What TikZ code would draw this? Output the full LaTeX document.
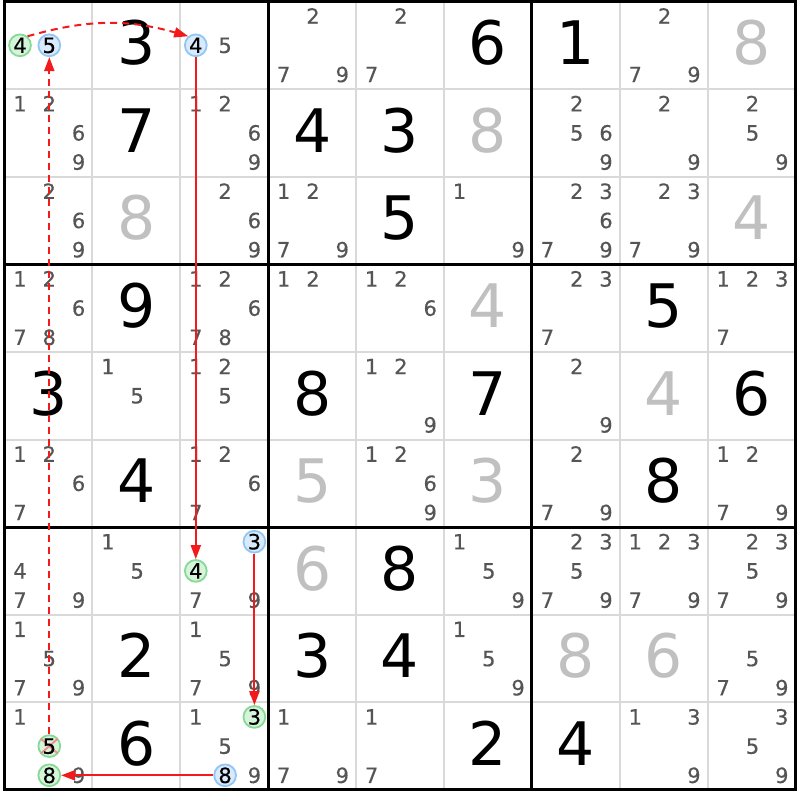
\documentclass[tikz,border=0pt]{standalone}
\usepackage{fontspec}
\setmainfont{DejaVu Sans}
\newfontfamily\candfont[FakeBold=0.4]{DejaVu Sans}
\usetikzlibrary{arrows.meta}
\definecolor{candgray}{HTML}{555555}
\definecolor{givengray}{HTML}{C0C0C0}
\definecolor{thingrid}{HTML}{D9D9D9}
\definecolor{grnfill}{HTML}{D6F4DA}
\definecolor{grnline}{HTML}{86DA96}
\definecolor{blufill}{HTML}{D8EAFC}
\definecolor{bluline}{HTML}{92C6F4}
\definecolor{linkred}{HTML}{F21A1A}
\definecolor{crossred}{HTML}{F08C8C}
\newcommand\candcoord[4]{%
  \pgfmathsetmacro\cxv{4.5+87.9*(#3-1)+15.5+29.3*mod(#4-1,3)}%
  \pgfmathsetmacro\cyv{1.5+87.6*(#2-1)+14.6+29.2*int((#4-1)/3)}%
  \coordinate (#1) at (\cxv,\cyv);}
\begin{document}
\begin{tikzpicture}[x=1pt,y=-1pt,
  cand/.style={font=\candfont\fontsize{21}{21}\selectfont, text=candgray, inner sep=0pt, text height=15.3pt, text depth=0pt},
  bigblack/.style={font=\fontsize{60}{60}\selectfont, text=black, inner sep=0pt, text height=43.7pt, text depth=0pt},
  biggray/.style={bigblack, text=givengray},
  gcirc/.style={circle, draw=grnline, fill=grnfill, line width=1.8pt, minimum size=21.8pt, inner sep=0pt, font=\candfont\fontsize{21}{21}\selectfont, text=black, text height=15.3pt, text depth=0pt},
  bcirc/.style={gcirc, draw=bluline, fill=blufill},
  circdigit/.style={inner sep=0pt, font=\candfont\fontsize{21}{21}\selectfont, text=black, text height=15.3pt, text depth=0pt},
  link/.style={draw=linkred, color=linkred, line width=2pt, -{Triangle[length=14pt,width=10pt]}},
  weaklink/.style={link, dash pattern=on 7pt off 5pt},
  thinline/.style={draw=thingrid, line width=2pt},
  thickline/.style={draw=black, line width=3pt},
]
\fill[white] (0,0) rectangle (800,800);
\useasboundingbox (0,0) rectangle (800,800);
% thin grid lines
\foreach \i in {1,2,4,5,7,8} {
  \draw[thinline] ({4.5+87.9*\i},1.5) -- ({4.5+87.9*\i},789.9);
  \draw[thinline] (4.5,{1.5+87.6*\i}) -- (795.6,{1.5+87.6*\i});
}
% thick grid lines
\foreach \i in {3,6} {
  \draw[thickline] ({4.5+87.9*\i},1.5) -- ({4.5+87.9*\i},789.9);
  \draw[thickline] (4.5,{1.5+87.6*\i}) -- (795.6,{1.5+87.6*\i});
}
\draw[thickline] (4.5,1.5) rectangle (795.6,789.9);
% solved digits
\foreach \r/\c/\v [count=\n] in {1/2/3,1/6/6,1/7/1,2/2/7,2/4/4,2/5/3,3/5/5,4/2/9,4/8/5,5/1/3,5/4/8,5/6/7,5/9/6,6/2/4,6/8/8,7/5/8,8/2/2,8/4/3,8/5/4,9/2/6,9/6/2,9/7/4}
  \node[bigblack] (k\n) at ({4.5+87.9*(\c-0.5)},{1.5+87.6*(\r-0.5)-2.5}) {\v};
\foreach \r/\c/\v [count=\n] in {1/9/8,2/6/8,3/2/8,3/9/4,4/6/4,5/8/4,6/4/5,6/6/3,7/4/6,8/7/8,8/8/6}
  \node[biggray] (g\n) at ({4.5+87.9*(\c-0.5)},{1.5+87.6*(\r-0.5)-2.5}) {\v};
% candidates
\foreach \r/\c/\L in {
  1/3/{5},1/4/{2,7,9},1/5/{2,7},1/8/{2,7,9},
  2/1/{1,2,6,9},2/3/{1,2,6,9},2/7/{2,5,6,9},2/8/{2,9},2/9/{2,5,9},
  3/1/{2,6,9},3/3/{2,6,9},3/4/{1,2,7,9},3/6/{1,9},3/7/{2,3,6,7,9},3/8/{2,3,7,9},
  4/1/{1,2,6,7,8},4/3/{1,2,6,7,8},4/4/{1,2},4/5/{1,2,6},4/7/{2,3,7},4/9/{1,2,3,7},
  5/2/{1,5},5/3/{1,2,5},5/5/{1,2,9},5/7/{2,9},
  6/1/{1,2,6,7},6/3/{1,2,6,7},6/5/{1,2,6,9},6/7/{2,7,9},6/9/{1,2,7,9},
  7/1/{4,7,9},7/2/{1,5},7/3/{7,9},7/6/{1,5,9},7/7/{2,3,5,7,9},7/8/{1,2,3,7,9},7/9/{2,3,5,7,9},
  8/1/{1,5,7,9},8/3/{1,5,7,9},8/6/{1,5,9},8/9/{5,7,9},
  9/1/{1,9},9/3/{1,5,9},9/4/{1,7,9},9/5/{1,7},9/8/{1,3,9},9/9/{3,5,9}} {
  \foreach \d in \L {
    \candcoord{p}{\r}{\c}{\d}
    \node[cand] (c\r\c\d) at (p) {\d};
  }
}
% highlighted candidates
\candcoord{pA}{1}{1}{4} \node[gcirc] (A) at (pA) {4};
\candcoord{pB}{1}{1}{5} \node[bcirc] (B) at (pB) {5};
\candcoord{pC}{1}{3}{4} \node[bcirc] (C) at (pC) {4};
\candcoord{pD}{7}{3}{3} \node[bcirc] (D) at (pD) {3};
\candcoord{pE}{7}{3}{4} \node[gcirc] (E) at (pE) {4};
\candcoord{pF}{9}{3}{3} \node[gcirc] (F) at (pF) {3};
\candcoord{pG}{9}{3}{8} \node[bcirc] (G) at (pG) {8};
\candcoord{pH}{9}{1}{5} \node[gcirc] (H) at (pH) {};
\draw[crossred, line width=1.8pt, line cap=round] ([shift={(-8,-7)}]H.center) -- ([shift={(8,7)}]H.center);
\draw[crossred, line width=1.8pt, line cap=round] ([shift={(8,-7)}]H.center) -- ([shift={(-8,7)}]H.center);
\node[circdigit] (H5) at (pH) {5};
\candcoord{pI}{9}{1}{8} \node[gcirc] (I) at (pI) {8};
% links
\draw[weaklink] (A.50) to[bend left=16] (C.130);
\draw[link] (C) -- (E);
\draw[link] (D) -- (F);
\draw[link] (G.west) -- (I.east);
\draw[weaklink] (H.north) -- (B.south);
\end{tikzpicture}
\end{document}
